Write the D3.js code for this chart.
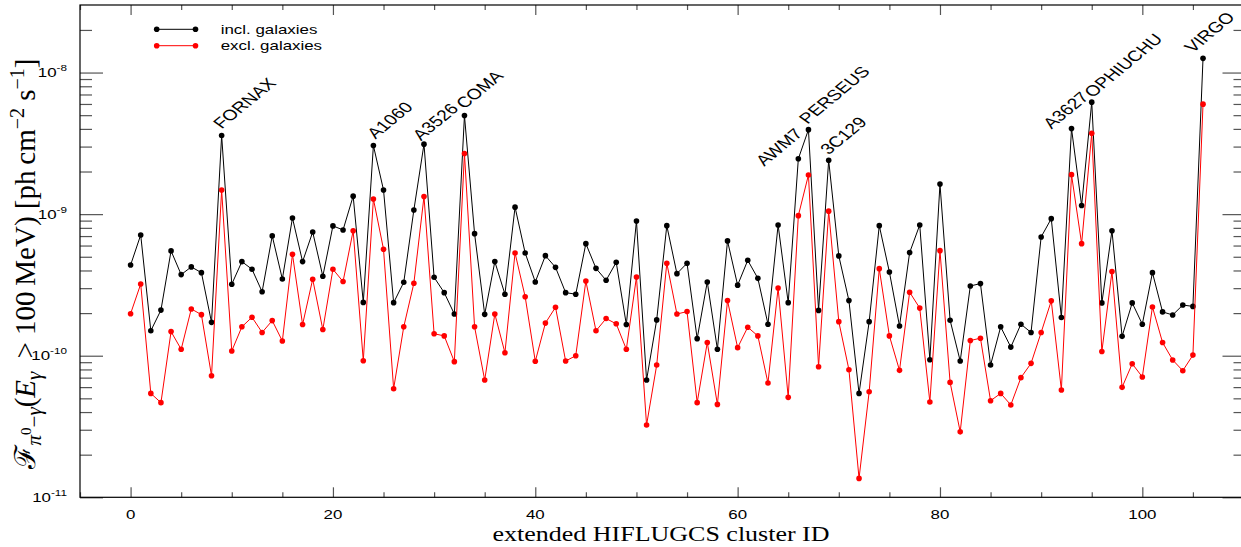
<!DOCTYPE html>
<html>
<head>
<meta charset="utf-8">
<script src="https://cdn.jsdelivr.net/npm/d3@7"></script>
<style>
  body { margin: 0; background: #fff; }
  svg { display: block; }
</style>
</head>
<body>
<div id="chart"></div>
<script>
// gamma-ray flux per cluster, index = extended HIFLUGCS cluster ID
const inclGalaxies = [
  4.37e-10, 7.13e-10, 1.50e-10, 2.10e-10, 5.50e-10, 3.74e-10, 4.24e-10, 3.86e-10, 1.72e-10, 3.59e-9,
  3.20e-10, 4.62e-10, 4.08e-10, 2.83e-10, 7.02e-10, 3.48e-10, 9.40e-10, 4.62e-10, 7.48e-10, 3.64e-10,
  8.26e-10, 7.73e-10, 1.34e-9, 2.38e-10, 3.05e-9, 1.48e-9, 2.37e-10, 3.30e-10, 1.07e-9, 3.12e-9,
  3.58e-10, 2.79e-10, 1.97e-10, 4.97e-9, 7.28e-10, 1.96e-10, 4.62e-10, 2.72e-10, 1.12e-9, 5.32e-10,
  3.32e-10, 5.09e-10, 4.21e-10, 2.79e-10, 2.72e-10, 6.19e-10, 4.14e-10, 3.41e-10, 4.57e-10, 1.66e-10,
  8.95e-10, 6.73e-11, 1.79e-10, 8.29e-10, 3.80e-10, 4.50e-10, 1.32e-10, 3.32e-10, 1.11e-10, 6.47e-10,
  3.15e-10, 4.72e-10, 3.52e-10, 1.67e-10, 8.39e-10, 2.37e-10, 2.46e-9, 3.95e-9, 2.09e-10, 2.40e-9,
  5.07e-10, 2.45e-10, 5.42e-11, 1.74e-10, 8.29e-10, 3.90e-10, 1.62e-10, 5.35e-10, 8.39e-10, 9.37e-11,
  1.63e-9, 1.78e-10, 9.17e-11, 3.11e-10, 3.23e-10, 8.59e-11, 1.60e-10, 1.15e-10, 1.67e-10, 1.46e-10,
  6.90e-10, 9.29e-10, 1.86e-10, 4.02e-9, 1.15e-9, 6.18e-9, 2.36e-10, 7.64e-10, 1.37e-10, 2.36e-10,
  1.67e-10, 3.86e-10, 2.04e-10, 1.94e-10, 2.28e-10, 2.23e-10, 1.26e-8
];

const exclGalaxies = [
  1.98e-10, 3.21e-10, 5.42e-11, 4.66e-11, 1.48e-10, 1.11e-10, 2.14e-10, 1.95e-10, 7.22e-11, 1.48e-9,
  1.08e-10, 1.60e-10, 1.87e-10, 1.46e-10, 1.77e-10, 1.27e-10, 5.21e-10, 1.66e-10, 3.47e-10, 1.53e-10,
  4.08e-10, 3.34e-10, 7.64e-10, 9.22e-11, 1.28e-9, 5.65e-10, 5.85e-11, 1.60e-10, 3.25e-10, 1.33e-9,
  1.43e-10, 1.38e-10, 9.08e-11, 2.68e-9, 1.60e-10, 6.73e-11, 1.97e-10, 1.05e-10, 5.32e-10, 2.61e-10,
  9.13e-11, 1.70e-10, 2.20e-10, 9.17e-11, 1.00e-10, 3.37e-10, 1.50e-10, 1.83e-10, 1.68e-10, 1.11e-10,
  3.60e-10, 3.24e-11, 8.59e-11, 4.50e-10, 1.97e-10, 2.05e-10, 4.66e-11, 1.24e-10, 4.53e-11, 2.45e-10,
  1.14e-10, 1.59e-10, 1.38e-10, 6.41e-11, 3.01e-10, 5.08e-11, 9.76e-10, 1.89e-9, 8.36e-11, 1.05e-9,
  1.74e-10, 7.96e-11, 1.36e-11, 5.57e-11, 4.12e-10, 1.38e-10, 7.88e-11, 2.81e-10, 2.17e-10, 4.71e-11,
  5.52e-10, 6.48e-11, 2.90e-11, 1.28e-10, 1.33e-10, 4.81e-11, 5.42e-11, 4.49e-11, 7.00e-11, 8.83e-11,
  1.46e-10, 2.44e-10, 5.73e-11, 1.90e-9, 6.19e-10, 3.73e-9, 1.07e-10, 3.93e-10, 5.98e-11, 8.78e-11,
  7.08e-11, 2.21e-10, 1.24e-10, 9.33e-11, 7.84e-11, 1.01e-10, 5.98e-9
];

// named clusters (cluster ID, name)
const labelIds = [9, 24, 29, 33, 66, 67, 69, 93, 95, 106];
const labelNames = ["FORNAX", "A1060", "A3526", "COMA", "AWM7", "PERSEUS", "3C129", "A3627", "OPHIUCHU", "VIRGO"];

const xTickLabels = [0, 20, 40, 60, 80, 100];
const yDecades = [-11, -10, -9, -8];

const seriesNames = ["incl. galaxies", "excl. galaxies"];
const seriesColors = ["#000000", "#ff0000"];

// label offsets (px) from the marker
const labelOffsets = {
    FORNAX: [0, -6], A1060: [2, -6], A3526: [-3, -3], COMA: [0, -6],
    AWM7: [-34, 8], PERSEUS: [-1, -5], "3C129": [0, -5], A3627: [-20, 1],
    OPHIUCHU: [1, -4], VIRGO: [-10, -5]
};

const W = 1241, H = 547;
const plotLeft = 80, plotRight = 1243.5, plotTop = 5, plotBottom = 497.3;
const stretch = 1.3;   // the original figure text is wider than tall
const sans = "'Liberation Sans', Arial, sans-serif";
const serif = "'Liberation Serif', 'Times New Roman', serif";

const svg = d3.select("#chart").append("svg")
    .attr("width", W)
    .attr("height", H);

const x = d3.scaleLinear().domain([-5, 110]).range([plotLeft, plotRight]);
const y = d3.scaleLog().domain([1e-11, 3e-8]).range([plotBottom, plotTop]);

// text helper: placed at (px, py), widened horizontally
function wideText(parent, px, py, extra) {
    return parent.append("text")
        .attr("transform", `translate(${px},${py}) scale(${stretch},1)` + (extra || ""));
}

// minor / major x ticks, bottom and top
const xMinor = d3.range(-5, 111, 5).filter(d => d % 20 !== 0);
const xMajor = d3.range(0, 111, 20);

const axisGroup = svg.append("g");

function drawXTicks(values, len) {
    axisGroup.append("g")
        .attr("transform", `translate(0,${plotBottom})`)
        .call(d3.axisBottom(x).tickValues(values).tickSize(-len).tickFormat(""))
        .call(g => g.select(".domain").remove());
    axisGroup.append("g")
        .attr("transform", `translate(0,${plotTop})`)
        .call(d3.axisTop(x).tickValues(values).tickSize(-len).tickFormat(""))
        .call(g => g.select(".domain").remove());
}
drawXTicks(xMinor, 5);
drawXTicks(xMajor, 10);

// y ticks
const yMajor = yDecades.map(e => Math.pow(10, e));
const yMinor = [];
yDecades.forEach(e => {
    for (let m = 2; m <= 9; m++) {
        const v = m * Math.pow(10, e);
        if (v <= 3e-8) yMinor.push(v);
    }
});

function drawYTicks(values, lenL, lenR) {
    axisGroup.append("g")
        .attr("transform", `translate(${plotLeft},0)`)
        .call(d3.axisLeft(y).tickValues(values).tickSize(-lenL).tickFormat(""))
        .call(g => g.select(".domain").remove());
    axisGroup.append("g")
        .attr("transform", `translate(${plotRight},0)`)
        .call(d3.axisRight(y).tickValues(values).tickSize(-lenR).tickFormat(""))
        .call(g => g.select(".domain").remove());
}
drawYTicks(yMinor, 12, 10);
drawYTicks(yMajor, 23, 21);

axisGroup.selectAll(".tick line")
    .attr("stroke", "#555")
    .attr("stroke-width", 1.2);

// frame
svg.append("rect")
    .attr("x", plotLeft)
    .attr("y", plotTop)
    .attr("width", plotRight - plotLeft)
    .attr("height", plotBottom - plotTop)
    .attr("fill", "none")
    .attr("stroke", "#000")
    .attr("stroke-width", 1.2);

// x tick labels
const xLabG = svg.append("g");
xTickLabels.forEach(d => {
    wideText(xLabG, x(d), 519)
        .attr("text-anchor", "middle")
        .attr("font-family", sans)
        .attr("font-size", 13)
        .text(d);
});

// y tick labels 10^n
const yLabG = svg.append("g");
yDecades.forEach(d => {
    const t = wideText(yLabG, 67, y(Math.pow(10, d)) + 4.5)
        .attr("text-anchor", "end")
        .attr("font-family", sans)
        .attr("font-size", 13);
    t.append("tspan").text("10");
    t.append("tspan").attr("font-size", 9).attr("dy", -6).text(d);
});

// axis titles
wideText(svg, 661, 540.5)
    .attr("text-anchor", "middle")
    .attr("font-family", serif)
    .attr("font-size", 20)
    .text("extended HIFLUGCS cluster ID");

const yTitle = svg.append("text")
    .attr("transform", "translate(35,264) rotate(-90)")
    .attr("text-anchor", "middle")
    .attr("font-family", serif)
    .attr("font-size", 29);
yTitle.append("tspan").text("\u2131");
yTitle.append("tspan").attr("font-size", 21).attr("font-style", "italic").attr("dy", 6).text("\u03c0");
yTitle.append("tspan").attr("font-size", 15).attr("dy", -10).text("0");
yTitle.append("tspan").attr("font-size", 21).attr("dy", 10).text("\u2212");
yTitle.append("tspan").attr("font-size", 21).attr("font-style", "italic").text("\u03b3");
yTitle.append("tspan").attr("dy", -6).text("(");
yTitle.append("tspan").attr("font-style", "italic").text("E");
yTitle.append("tspan").attr("font-size", 21).attr("font-style", "italic").attr("dy", 6).text("\u03b3");
yTitle.append("tspan").attr("dy", -6).text("\u2009 > 100\u2009MeV) [ph\u2009cm");
yTitle.append("tspan").attr("font-size", 20).attr("dy", -11).text("\u22122");
yTitle.append("tspan").attr("dy", 11).text(" s");
yTitle.append("tspan").attr("font-size", 20).attr("dy", -11).text("\u22121");
yTitle.append("tspan").attr("dy", 11).text("]");

// series
const series = [inclGalaxies, exclGalaxies];
const line = d3.line()
    .x((d, i) => x(i))
    .y(d => y(d));

series.forEach((vals, k) => {
    const g = svg.append("g");
    g.append("path")
        .datum(vals)
        .attr("d", line)
        .attr("fill", "none")
        .attr("stroke", seriesColors[k])
        .attr("stroke-width", 1);
    g.selectAll("circle")
        .data(vals)
        .enter()
        .append("circle")
        .attr("cx", (d, i) => x(i))
        .attr("cy", d => y(d))
        .attr("r", 2.8)
        .attr("fill", seriesColors[k]);
});

// cluster name labels
const nameG = svg.append("g");
labelIds.forEach((id, k) => {
    const name = labelNames[k];
    const off = labelOffsets[name];
    wideText(nameG, x(id) + off[0], y(inclGalaxies[id]) + off[1], " rotate(-47)")
        .attr("font-family", sans)
        .attr("font-size", 15)
        .text(name);
});

// legend
const legend = svg.append("g");
seriesNames.forEach((name, k) => {
    const ly = 29.3 + k * 16.4;
    legend.append("line")
        .attr("x1", 156.7).attr("x2", 195.5)
        .attr("y1", ly).attr("y2", ly)
        .attr("stroke", seriesColors[k])
        .attr("stroke-width", 1);
    legend.selectAll(null)
        .data([156.7, 195.5])
        .enter()
        .append("circle")
        .attr("cx", d => d)
        .attr("cy", ly)
        .attr("r", 2.8)
        .attr("fill", seriesColors[k]);
    wideText(legend, 220.7, ly + 4.5)
        .attr("font-family", sans)
        .attr("font-size", 13)
        .text(name);
});
</script>
</body>
</html>
